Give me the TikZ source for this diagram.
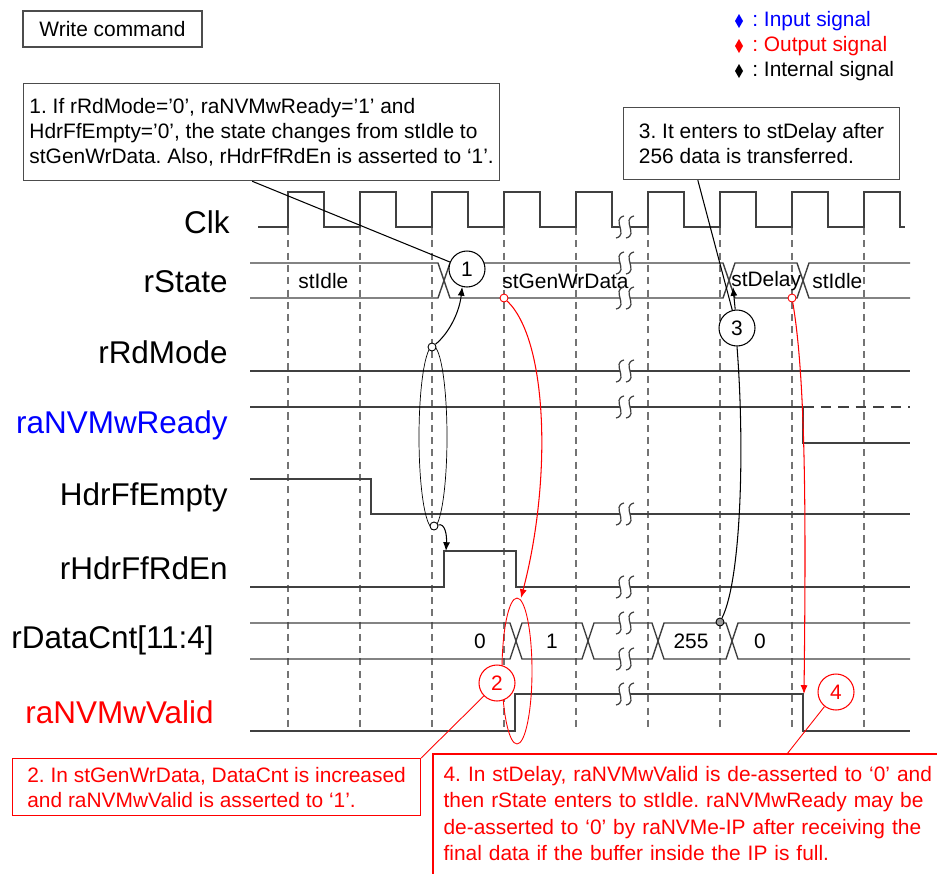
\documentclass[tikz,border=0pt]{standalone}
\usepackage{fontspec}
\setmainfont{Liberation Sans}
\usetikzlibrary{calc,arrows.meta}
\frenchspacing
\tikzset{
  wavel/.style={line width=0.8pt, color=black!75},
  clkgrid/.style={line width=0.8pt, color=black!55, dash pattern=on 4pt off 3pt},
  notebox/.style={draw=black!70, line width=0.7pt, fill=white, align=left, font=\fontsize{11.9}{14.2}\selectfont},
  siglabel/.style={anchor=east, inner sep=0pt, font=\fontsize{17.9}{20}\selectfont},
  busval/.style={inner sep=0pt, font=\fontsize{11.9}{14.2}\selectfont},
  probe/.style={circle, draw, fill=white, line width=0.5pt, minimum size=0.16cm, inner sep=0pt},
  badge/.style={circle, draw, fill=white, line width=0.6pt, minimum size=0.72cm, inner sep=0pt, font=\fontsize{11.9}{14.2}\selectfont},
  arrowln/.style={-{Latex[length=5pt,width=4pt]}, line width=0.6pt}
}
\def\wavebreak(#1,#2){\fill[white,shift={(#1,#2)}] (-5,-2.5) rectangle (5,2.5);
  \draw[wavel,line width=0.7pt,shift={(#1,#2)}] (-1,-11) .. controls (-14,-8) and (4,8) .. (-9,11);
  \draw[wavel,line width=0.7pt,shift={(#1,#2)}] (9,-11) .. controls (-4,-8) and (14,8) .. (1,11);}

\begin{document}
\begin{tikzpicture}[x=0.02cm,y=-0.02cm]
	%%%%% START %%%%%
	\useasboundingbox (0,0) rectangle (937,873);
	
	\node[notebox, minimum width=3.58cm, minimum height=0.72cm] (wcmd) at (112.5,29) {Write command};
	
	\fill[blue] (739,14) -- (743,21) -- (739,28) -- (735,21) -- cycle;
	\fill[red] (739,39) -- (743,46) -- (739,53) -- (735,46) -- cycle;
	\fill[black] (739,64) -- (743,71) -- (739,78) -- (735,71) -- cycle;
	\node[busval, anchor=west, blue] (lgIn) at (752,21) {: Input signal};
	\node[busval, anchor=west, red] (lgOut) at (752,46) {: Output signal};
	\node[busval, anchor=west] (lgInt) at (752,71) {: Internal signal};
	
	\draw[clkgrid] (288,228) -- (288,730) (360,228) -- (360,730) (432,228) -- (432,730)
		(504,228) -- (504,730) (576,228) -- (576,730) (648,228) -- (648,730)
		(720,228) -- (720,730) (792,228) -- (792,730) (864,228) -- (864,730);
	
	\node[siglabel] (lClk) at (230,222) {Clk};
	\node[siglabel] (lState) at (228,282) {rState};
	\node[siglabel] (lMode) at (228,352) {rRdMode};
	\node[siglabel, blue] (lReady) at (228,425) {raNVMwReady};
	\node[siglabel] (lEmpty) at (228,497) {HdrFfEmpty};
	\node[siglabel] (lRdEn) at (228,568) {rHdrFfRdEn};
	\node[siglabel] (lCnt) at (214,640) {rDataCnt[11:4]};
	\node[siglabel, red] (lValid) at (214,712) {raNVMwValid};
	
	% clock
	\draw[wavel] (258,227) -- (288,227) -- (288,192) -- (324,192) -- (324,227) -- (360,227) -- (360,192)
		-- (396,192) -- (396,227) -- (432,227) -- (432,192) -- (468,192) -- (468,227) -- (504,227)
		-- (504,192) -- (540,192) -- (540,227) -- (576,227) -- (576,192) -- (612,192) -- (612,227)
		-- (648,227) -- (648,192) -- (684,192) -- (684,227) -- (720,227) -- (720,192) -- (756,192)
		-- (756,227) -- (792,227) -- (792,192) -- (828,192) -- (828,227) -- (864,227) -- (864,192)
		-- (900,192) -- (900,227) -- (905,227);
	
	% rState
	\draw[wavel] (250,263) -- (438,263) -- (450,298) -- (723,298) -- (735,263) -- (797,263) -- (809,298) -- (910,298);
	\draw[wavel] (250,298) -- (438,298) -- (450,263) -- (723,263) -- (735,298) -- (797,298) -- (809,263) -- (910,263);
	\node[busval, anchor=west] (sIdleA) at (298,281) {stIdle};
	\node[busval, anchor=west] (sGen) at (502,281) {stGenWrData};
	\node[busval, anchor=west] (sDelay) at (731,281) {stDelay};
	\node[busval, anchor=west] (sIdleB) at (812,281) {stIdle};
	
	\draw[wavel] (250,371) -- (910,371);
	
	\draw[wavel] (250,407) -- (803,407) -- (803,443) -- (910,443);
	\draw[wavel, dash pattern=on 6pt off 4pt] (803,407) -- (910,407);
	
	\draw[wavel] (250,479) -- (371,479) -- (371,514) -- (910,514);
	
	\draw[wavel] (250,587) -- (444,587) -- (444,551) -- (516,551) -- (516,587) -- (910,587);
	
	% rDataCnt
	\draw[wavel] (250,623) -- (510,623) -- (522,659) -- (582,659) -- (594,623) -- (652,623) -- (664,659) -- (726,659) -- (738,623) -- (910,623);
	\draw[wavel] (250,659) -- (510,659) -- (522,623) -- (582,623) -- (594,659) -- (652,659) -- (664,623) -- (726,623) -- (738,659) -- (910,659);
	\node[busval] (cnt0) at (480,641) {0};
	\node[busval] (cnt1v) at (552,641) {1};
	\node[busval] (cnt255) at (691,641) {255};
	\node[busval] (cnt0b) at (760,641) {0};
	
	\draw[wavel] (250,731) -- (515,731) -- (515,694) -- (803,694) -- (803,731) -- (910,731);
	
	\wavebreak(625,227)
	\wavebreak(625,263)
	\wavebreak(625,298)
	\wavebreak(625,371)
	\wavebreak(625,407)
	\wavebreak(625,514)
	\wavebreak(625,587)
	\wavebreak(625,623)
	\wavebreak(625,659)
	\wavebreak(625,694)
	
	% notes
	\node[notebox, anchor=north west, minimum width=9.4cm, minimum height=1.94cm] (box1) at (23,83)
		{1. If rRdMode=’0’, raNVMwReady=’1’ and\\HdrFfEmpty=’0’, the state changes from stIdle to\\stGenWrData. Also, rHdrFfRdEn is asserted to ‘1’.};
	\node[notebox, anchor=north west, minimum width=5.52cm, minimum height=1.44cm] (box3) at (623,107)
		{3. It enters to stDelay after\\256 data is transferred.};
	\node[notebox, draw=red, text=red, anchor=north west, minimum width=8.16cm, minimum height=1.14cm] (box2) at (12,758)
		{2. In stGenWrData, DataCnt is increased\\and raNVMwValid is asserted to ‘1’.};
	\node[notebox, draw=none, text=red, anchor=north west, text width=10cm, inner xsep=0.2cm, inner ysep=0.24cm, font=\fontsize{11.9}{14.9}\selectfont] (box4) at (433,754)
		{4. In stDelay, raNVMwValid is de-asserted to ‘0’ and\\then rState enters to stIdle. raNVMwReady may be\\de-asserted to ‘0’ by raNVMe-IP after receiving the\\final data if the buffer inside the IP is full.};
	\draw[red, line width=0.7pt] (box4.north west) rectangle ($(box4.south east)+(0,40)$);
	
	\draw[line width=0.4pt] (433,437) ellipse [x radius=0.28cm, y radius=1.82cm];
	\draw[red, line width=0.5pt] (517,671) ellipse [x radius=0.3cm, y radius=1.46cm];
	
	\node[probe] (d1) at (432,347) {};
	\node[probe] (d2) at (434,526) {};
	\node[probe, fill=black!40] (d3) at (720,622) {};
	\node[probe, draw=red] (d4) at (504,298) {};
	\node[probe, draw=red] (d5) at (792,298) {};
	\coordinate (rEn) at (446,551);
	\coordinate (sDel) at (733,287);
	\coordinate (cntX) at (521,598);
	\coordinate (vFall) at (804,694);
	
	\node[badge] (n1) at (467,269) {1};
	\node[badge] (n3) at (737,328) {3};
	\node[badge, draw=red, text=red] (n2) at (497,683) {2};
	\node[badge, draw=red, text=red] (n4) at (836,692) {4};
	
	\draw[line width=0.6pt] ($(box1.south west)!0.48!(box1.south east)$) -- (n1);
	\draw[line width=0.6pt] ($(box3.south west)!0.27!(box3.south east)$) -- (n3);
	\draw[red, line width=0.5pt] (n2) -- (box2.north east);
	\draw[red, line width=0.5pt] (n4) -- ($(box4.north west)+(354,0)$);
	
	\draw[arrowln] (d1) .. controls (447,335) and (459,315) .. (n1.-105);
	\draw[arrowln] (d2) .. controls (445,523) and (447,535) .. (rEn);
	\draw[arrowln] (n3) -- (sDel);
	\draw[line width=0.6pt] (n3.south) .. controls (745,450) and (741,580) .. (d3);
	\draw[arrowln, red] (d4) .. controls (548,340) and (552,480) .. (cntX);
	\draw[arrowln, red] (d5) .. controls (806,380) and (806,520) .. (vFall);
	
	%%%%% END %%%%%
\end{tikzpicture}
\end{document}
